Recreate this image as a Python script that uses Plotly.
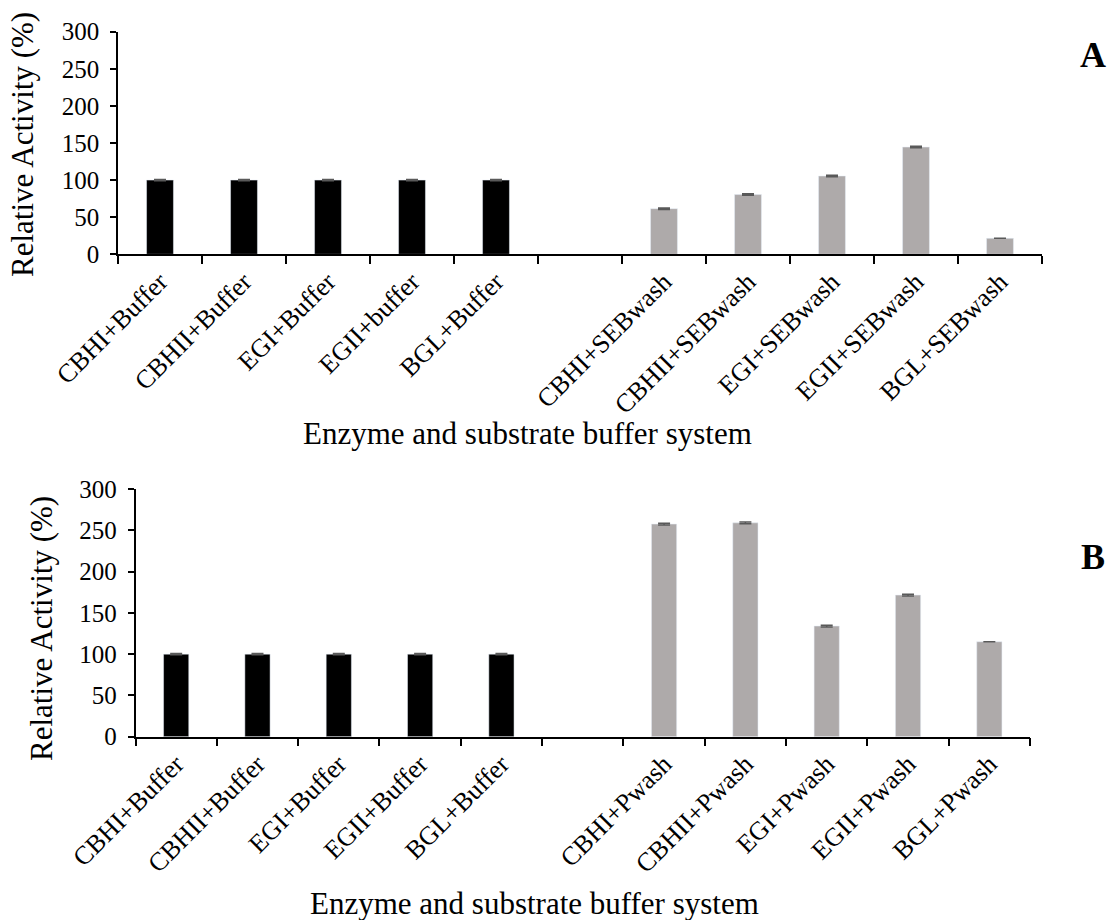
import plotly.graph_objects as go

# ---------------- data ----------------
top_categories = ["CBHI+Buffer", "CBHII+Buffer", "EGI+Buffer", "EGII+buffer", "BGL+Buffer", " ",
                  "CBHI+SEBwash", "CBHII+SEBwash", "EGI+SEBwash", "EGII+SEBwash", "BGL+SEBwash"]
top_buffer_labels = ["CBHI+Buffer", "CBHII+Buffer", "EGI+Buffer", "EGII+buffer", "BGL+Buffer"]
top_buffer_values = [100, 100, 100, 100, 100]
top_buffer_err = [0.8, 0.8, 0.8, 0.8, 0.8]
top_wash_labels = ["CBHI+SEBwash", "CBHII+SEBwash", "EGI+SEBwash", "EGII+SEBwash", "BGL+SEBwash"]
top_wash_values = [61.5, 80.5, 105.5, 144.5, 21.5]
top_wash_err = [1.0, 1.0, 1.0, 1.0, None]

bottom_categories = ["CBHI+Buffer", "CBHII+Buffer", "EGI+Buffer", "EGII+Buffer", "BGL+Buffer", " ",
                     "CBHI+Pwash", "CBHII+Pwash", "EGI+Pwash", "EGII+Pwash", "BGL+Pwash"]
bottom_buffer_labels = ["CBHI+Buffer", "CBHII+Buffer", "EGI+Buffer", "EGII+Buffer", "BGL+Buffer"]
bottom_buffer_values = [100, 100, 100, 100, 100]
bottom_buffer_err = [0.8, 0.8, 0.8, 0.8, 0.8]
bottom_wash_labels = ["CBHI+Pwash", "CBHII+Pwash", "EGI+Pwash", "EGII+Pwash", "BGL+Pwash"]
bottom_wash_values = [257.5, 259, 134, 171.5, 115]
bottom_wash_err = [1.0, 1.0, 1.0, 1.0, None]

y_ticks = [0, 50, 100, 150, 200, 250, 300]
y_title = "Relative Activity (%)"
x_title = "Enzyme and substrate buffer system"

# ---------------- styling ----------------
FONT = "Liberation Serif"
W, H = 1108, 920
BLACK = "#000000"
GREY = "#AEAAAA"
ERR = "#595959"


def px_x(v):
    return v / W


def px_y(v):
    return 1 - v / H


def err(arr):
    return dict(type="data", array=arr, visible=True, color=ERR, thickness=1.5, width=6)


fig = go.Figure()
fig.add_trace(go.Bar(x=top_buffer_labels, y=top_buffer_values, marker_color=BLACK, width=0.32,
                     error_y=err(top_buffer_err), xaxis="x", yaxis="y"))
fig.add_trace(go.Bar(x=top_wash_labels, y=top_wash_values, marker_color=GREY, width=0.32,
                     error_y=err(top_wash_err), xaxis="x", yaxis="y"))
fig.add_trace(go.Bar(x=bottom_buffer_labels, y=bottom_buffer_values, marker_color=BLACK, width=0.31,
                     error_y=err(bottom_buffer_err), xaxis="x2", yaxis="y2"))
fig.add_trace(go.Bar(x=bottom_wash_labels, y=bottom_wash_values, marker_color=GREY, width=0.31,
                     error_y=err(bottom_wash_err), xaxis="x2", yaxis="y2"))

xcommon = dict(type="category", tickson="boundaries", ticks="outside", ticklen=8, tickwidth=1.5,
               tickcolor="black", showline=True, linecolor="black", linewidth=1.5, showgrid=False,
               zeroline=False, tickangle=-45, range=[-0.5, 10.5], automargin=False,
               tickfont=dict(family=FONT, size=26, color="black"))
ycommon = dict(range=[0, 300], tickvals=y_ticks, ticks="outside", ticklen=6, tickwidth=1.5,
               tickcolor="black", showline=True, linecolor="black", linewidth=1.5, showgrid=False,
               zeroline=False, tickfont=dict(family=FONT, size=25, color="black"),
               ticklabelstandoff=6, automargin=False)

fig.update_layout(
    width=W, height=H, margin=dict(l=0, r=0, t=0, b=0, autoexpand=False),
    paper_bgcolor="white", plot_bgcolor="white", showlegend=False, barmode="overlay",
    xaxis=dict(xcommon, domain=[px_x(118), px_x(1042)], anchor="y",
               categoryorder="array", categoryarray=top_categories),
    yaxis=dict(ycommon, domain=[px_y(254.3), px_y(31.7)], anchor="x"),
    xaxis2=dict(xcommon, domain=[px_x(135.5), px_x(1030)], anchor="y2",
                categoryorder="array", categoryarray=bottom_categories),
    yaxis2=dict(ycommon, domain=[px_y(736.7), px_y(489)], anchor="x2"),
)

ann_font = dict(family=FONT, size=31, color="black")
annotations = [
    dict(text=y_title, x=px_x(22), y=px_y(145), textangle=-90, font=ann_font),
    dict(text=y_title, x=px_x(41), y=px_y(629), textangle=-90, font=ann_font),
    dict(text=x_title, x=px_x(527), y=px_y(433), font=ann_font),
    dict(text=x_title, x=px_x(534), y=px_y(903), font=ann_font),
    dict(text="<b>A</b>", x=px_x(1093), y=px_y(55), font=dict(family=FONT, size=36, color="black")),
    dict(text="<b>B</b>", x=px_x(1093), y=px_y(557), font=dict(family=FONT, size=36, color="black")),
]
for a in annotations:
    a.update(xref="paper", yref="paper", showarrow=False, xanchor="center", yanchor="middle")
fig.update_layout(annotations=annotations)

fig.write_html("out.html")
